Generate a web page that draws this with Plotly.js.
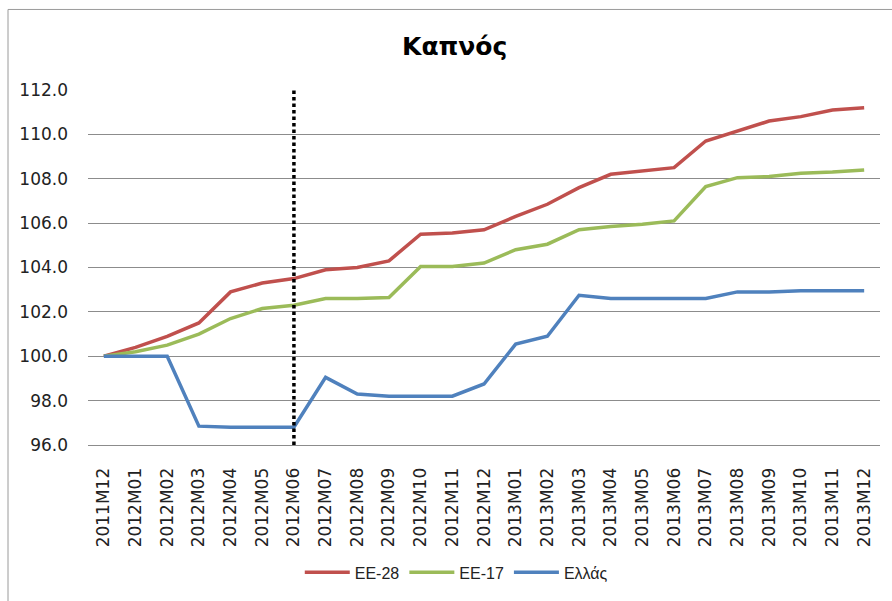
<!DOCTYPE html>
<html>
<head>
<meta charset="utf-8">
<script src="https://cdn.plot.ly/plotly-3.0.1.min.js"></script>
<style>
  html, body { margin: 0; padding: 0; background: #fff; }
  #chart { width: 892px; height: 601px; }
</style>
</head>
<body>
<div id="chart"></div>
<script>
const months = ['2011M12','2012M01','2012M02','2012M03','2012M04','2012M05','2012M06','2012M07','2012M08','2012M09','2012M10','2012M11','2012M12','2013M01','2013M02','2013M03','2013M04','2013M05','2013M06','2013M07','2013M08','2013M09','2013M10','2013M11','2013M12'];
const eu28 = [100.0,100.4,100.9,101.5,102.9,103.3,103.5,103.9,104.0,104.3,105.5,105.55,105.7,106.3,106.85,107.6,108.2,108.35,108.5,109.7,110.15,110.6,110.8,111.1,111.2];
const eu17 = [100.0,100.2,100.5,101.0,101.7,102.15,102.3,102.6,102.6,102.65,104.05,104.05,104.2,104.8,105.05,105.7,105.85,105.95,106.1,107.65,108.05,108.1,108.25,108.3,108.4];
const greece = [100.0,100.0,100.0,96.85,96.8,96.8,96.8,99.05,98.3,98.2,98.2,98.2,98.75,100.55,100.9,102.75,102.6,102.6,102.6,102.6,102.9,102.9,102.95,102.95,102.95];
const seriesNames = ['ΕΕ-28','ΕΕ-17','Ελλάς'];
const markerMonth = '2012M06';
const chartTitle = 'Καπνός';

const colors = ['#C0504D','#9BBB59','#4F81BD'];
const data = [eu28, eu17, greece].map((vals, i) => ({
  x: months, y: vals, type: 'scatter', mode: 'lines', name: seriesNames[i],
  line: {color: colors[i], width: 3.5}
}));

const gridColor = '#8c8c8c';
const layout = {
  width: 892, height: 601,
  margin: {l: 88, r: 12, t: 90, b: 154},
  paper_bgcolor: '#fff', plot_bgcolor: '#fff',
  title: {text: '<b>' + chartTitle + '</b>', x: 0.463, xref: 'paper', xanchor: 'center',
          y: 0.923, yref: 'container', yanchor: 'middle',
          font: {family: 'DejaVu Sans', size: 25, color: '#000'}},
  xaxis: {type: 'category', range: [-0.5, months.length - 0.5], tickangle: -90, showgrid: false,
          showline: true, linecolor: gridColor, linewidth: 1,
          ticks: '', tickfont: {family: 'DejaVu Sans', size: 17, color: '#222'}, ticklabelstandoff: 15},
  yaxis: {range: [96, 112], dtick: 2, tick0: 96, tickformat: '.1f', showgrid: true, gridcolor: gridColor, gridwidth: 1,
          zeroline: false, ticks: '', showline: false, tickfont: {family: 'DejaVu Sans', size: 17, color: '#222'}, ticklabelstandoff: 19},
  legend: {orientation: 'h', x: 0.465, xanchor: 'center', y: -0.359, yanchor: 'middle',
           font: {family: 'Liberation Sans', size: 16, color: '#222'}, itemwidth: 45},
  showlegend: true,
  shapes: [
    {type: 'line', xref: 'x', yref: 'y', x0: markerMonth, x1: markerMonth, y0: 96, y1: 112,
     line: {color: '#000', width: 3.5, dash: '3.5px,3px'}},
    {type: 'line', xref: 'paper', yref: 'paper', x0: (8-88)/792, x1: (8-88)/792, y0: (447-9)/357, y1: (447-620)/357,
     line: {color: '#9a9a9a', width: 1}},
    {type: 'line', xref: 'paper', yref: 'paper', x0: (8-88)/792, x1: (920-88)/792, y0: (447-9)/357, y1: (447-9)/357,
     line: {color: '#9a9a9a', width: 1}}
  ]
};
Plotly.newPlot('chart', data, layout, {displayModeBar: false, staticPlot: true});
</script>
</body>
</html>
